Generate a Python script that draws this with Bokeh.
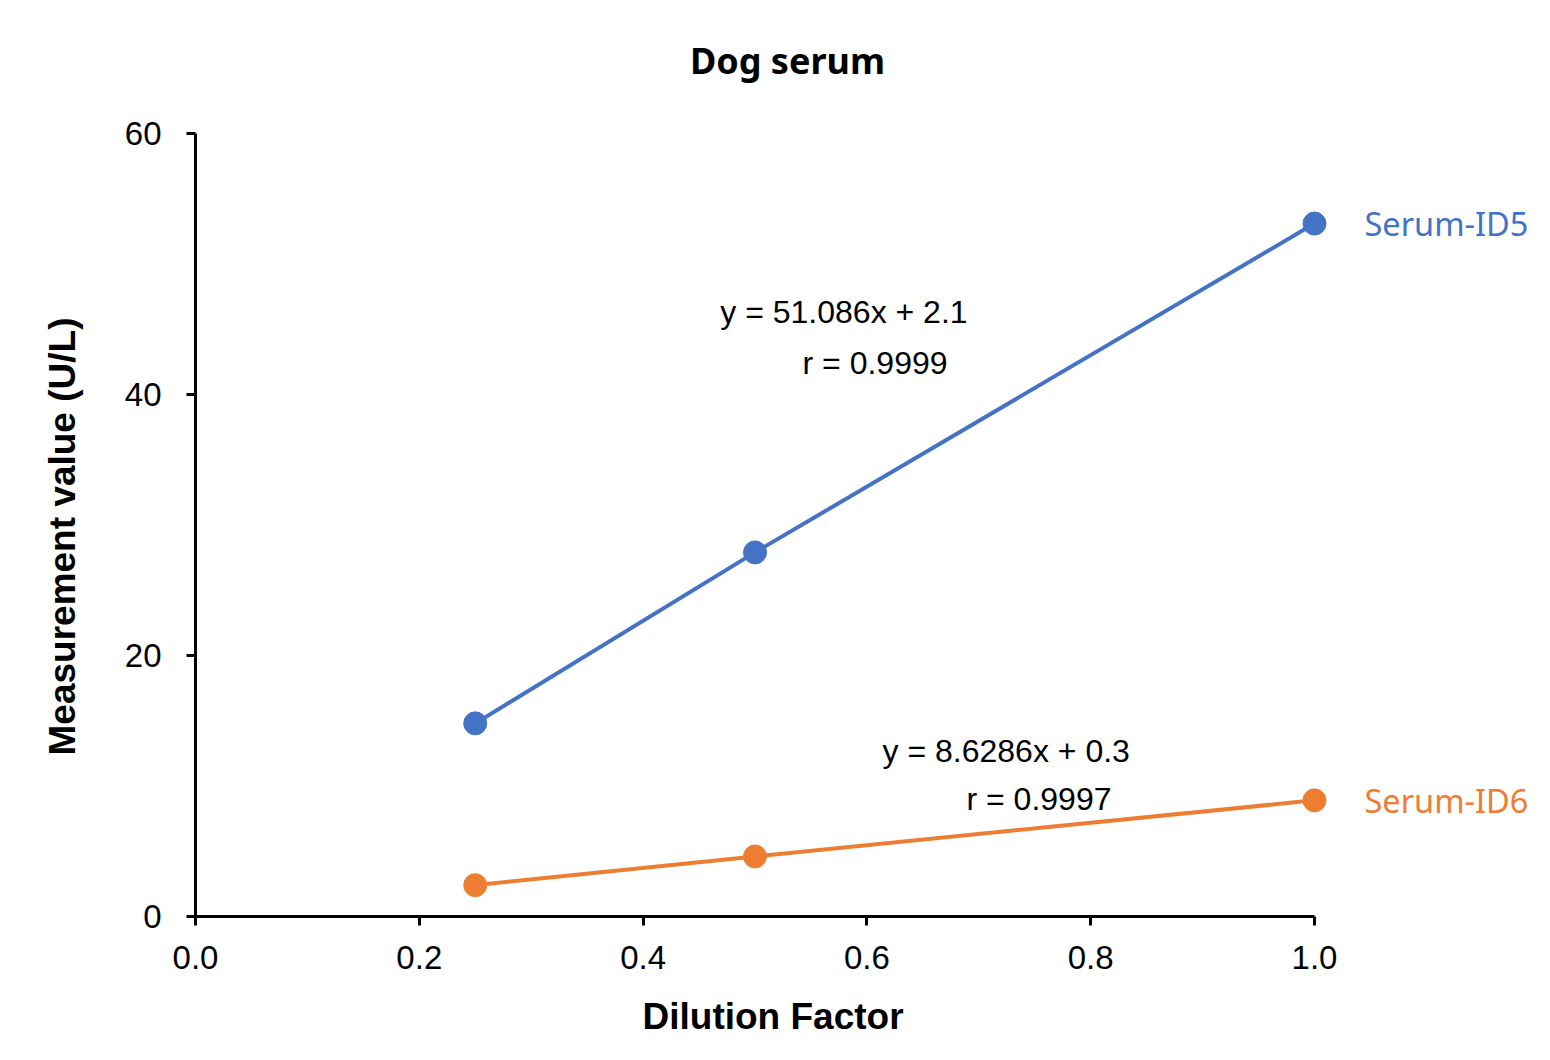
from bokeh.plotting import figure
from bokeh.models import Range1d, Label, FixedTicker, CustomJSTickFormatter, Title
from bokeh.embed import file_html
from bokeh.resources import INLINE

# Data
dilution = [0.25, 0.5, 1.0]
id5_values = [14.8, 27.9, 53.1]
id6_values = [2.4, 4.6, 8.9]
series_names = ["Serum-ID5", "Serum-ID6"]
eq_texts = ["y = 51.086x + 2.1", "r = 0.9999", "y = 8.6286x + 0.3", "r = 0.9997"]
x_ticks = [0.0, 0.2, 0.4, 0.6, 0.8, 1.0]
y_ticks = [0, 20, 40, 60]

BLUE = "#4472C4"
ORANGE = "#ED7D31"

# Frame: left 195px, bottom 916px; x 0..1 spans 1119px, y 0..60 spans 783px.
X_END = (1545 - 195) / 1119.0
Y_END = (916 - 10) / (783 / 60.0)

p = figure(width=1550, height=1060, output_backend="svg", toolbar_location=None,
           x_range=Range1d(0, X_END), y_range=Range1d(0, Y_END),
           min_border_left=195, min_border_right=5,
           min_border_top=10, min_border_bottom=144)
p.title = None
p.outline_line_color = None
p.grid.visible = False
p.background_fill_color = "white"
p.border_fill_color = "white"

for ax in (p.xaxis[0], p.yaxis[0]):
    ax.axis_line_color = "black"
    ax.axis_line_width = 3
    ax.major_tick_line_color = "black"
    ax.major_tick_line_width = 3
    ax.major_tick_in = 0
    ax.major_tick_out = 9
    ax.minor_tick_line_color = None
    ax.major_label_text_font = "Liberation Sans"
    ax.major_label_text_font_size = "33px"
    ax.major_label_text_color = "black"

p.xaxis[0].bounds = (0, 1.0)
p.xaxis[0].ticker = FixedTicker(ticks=x_ticks)
p.xaxis[0].formatter = CustomJSTickFormatter(code="return tick.toFixed(1);")
p.xaxis[0].major_label_standoff = 20

p.yaxis[0].bounds = (0, 60)
p.yaxis[0].ticker = FixedTicker(ticks=y_ticks)
p.yaxis[0].major_label_standoff = 25

# Axis titles (placed as side titles so they can be positioned along the axis)
xt = Title(text="Dilution Factor", align="left", offset=447, standoff=45,
           text_font="Liberation Sans", text_font_size="37px", text_font_style="bold",
           text_color="black")
p.add_layout(xt, "below")
yt = Title(text="Measurement value (U/L)", align="left", offset=161, standoff=77,
           text_font="Liberation Sans", text_font_size="37px", text_font_style="bold",
           text_color="black")
p.add_layout(yt, "left")

for vals, color in ((id5_values, BLUE), (id6_values, ORANGE)):
    p.line(dilution, vals, line_color=color, line_width=4)
    p.scatter(dilution, vals, size=23, fill_color=color, line_color=color, marker="circle")

# Series labels at right end
for vals, color, name in ((id5_values, BLUE, series_names[0]), (id6_values, ORANGE, series_names[1])):
    p.add_layout(Label(x=dilution[-1], y=vals[-1], text=name, x_offset=50,
                       text_baseline="middle", text_align="left",
                       text_font="Noto Sans", text_font_size="32.5px", text_color=color))

# Equation labels
eq_pos = [(0.469, 46.3), (0.5425, 42.45), (0.614, 12.72), (0.689, 9.04)]
for (ex, ey), t in zip(eq_pos, eq_texts):
    p.add_layout(Label(x=ex, y=ey, text=t, text_baseline="middle", text_align="left",
                       text_font="Liberation Sans", text_font_size="32px", text_color="black"))

# Title
p.add_layout(Label(x=0.529, y=65.6, text="Dog serum", text_baseline="middle", text_align="center",
                   text_font="Noto Sans", text_font_size="36px", text_font_style="bold",
                   text_color="black"))

open("out.html", "w").write(file_html(p, INLINE))
